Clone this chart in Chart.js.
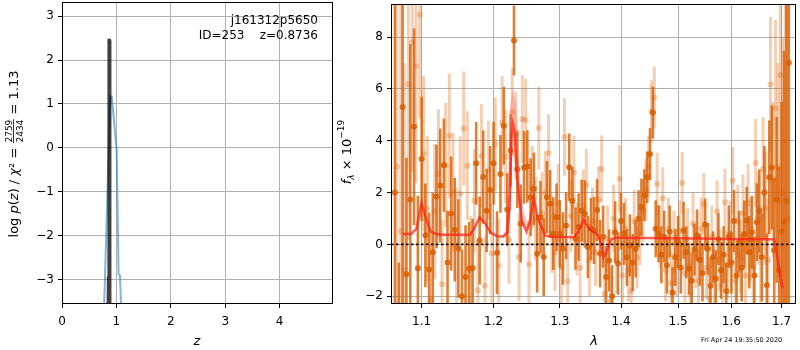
<!DOCTYPE html>
<html><head><meta charset="utf-8">
<script src="https://cdn.jsdelivr.net/npm/chart.js@4.4.1/dist/chart.umd.min.js"></script>
<style>
html,body{margin:0;padding:0;background:#fff;width:800px;height:350px;overflow:hidden}
#c1{position:absolute;left:0;top:0}
#c2{position:absolute;left:335px;top:0}
</style></head><body>
<canvas id="c1" width="335" height="350"></canvas>
<canvas id="c2" width="465" height="350"></canvas>
<script>
// ---------- left panel data: log p(z) ----------
const PZ_X_TICKS = [0, 1, 2, 3, 4];
const PZ_Y_TICKS = [-3, -2, -1, 0, 1, 2, 3];
const PZ_BLACK_Z = [0.845, 0.852, 0.862, 0.873, 0.881];
const PZ_BLACK_Y = [-3.7, -2.95, 2.45, 2.45, -3.7];
const PZ_BLUE_Z = [0.77, 0.79, 0.885, 0.915, 1.005, 1.04, 1.065, 1.09];
const PZ_BLUE_Y = [-3.7, -2.95, 1.17, 1.17, -0.05, -2.88, -2.9, -3.7];

// ---------- right panel data: spectrum ----------
const SP_X_TICKS = [1.1, 1.2, 1.3, 1.4, 1.5, 1.6, 1.7];
const SP_Y_TICKS = [-2, 0, 2, 4, 6, 8];
const DARK_L = [1.065,1.070,1.075,1.080,1.085,1.090,1.095,1.100,1.105,1.110,1.115,1.120,1.125,1.130,1.135,1.140,1.145,1.150,1.155,1.160,1.165,1.170,1.175,1.180,1.185,1.190,1.195,1.200,1.205,1.210,1.215,1.220,1.225,1.230,1.235,1.240,1.245,1.250,1.255,1.260,1.265,1.270,1.275,1.280,1.285,1.290,1.295,1.300,1.305,1.310,1.315,1.320,1.325,1.330,1.335,1.340,1.345,1.350,1.355,1.360,1.365,1.370,1.375,1.380,1.385,1.390,1.395,1.400,1.405,1.410,1.415,1.420,1.425,1.430,1.435,1.440,1.445,1.450,1.455,1.460,1.465,1.470,1.475,1.480,1.485,1.490,1.495,1.500,1.505,1.510,1.515,1.520,1.525,1.530,1.535,1.540,1.545,1.550,1.555,1.560,1.565,1.570,1.575,1.580,1.585,1.590,1.595,1.600,1.605,1.610,1.615,1.620,1.625,1.630,1.635,1.640,1.645,1.650,1.655,1.660,1.665,1.670,1.675,1.680,1.685,1.690,1.695,1.700,1.705,1.710,1.715];
const DARK_F = [2.0,-3.2,5.3,-1.15,1.73,4.54,-0.92,3.3,0.35,-0.97,-0.3,1.85,2.27,3.06,-0.7,1.19,0.57,-0.16,-2.0,-1.26,-0.93,-0.91,3.13,0.15,2.6,1.3,2.1,3.13,-0.32,2.72,4.58,1.35,3.62,7.87,2.9,0.8,2.97,3.01,1.82,2.14,-0.36,1.05,-0.49,1.82,1.57,0.41,1.05,0.41,-0.16,0.73,2.98,1.69,0.22,0.67,1.3,1.18,-0.1,0.6,0.54,1.33,-0.36,0.3,-1.26,-0.62,-2.0,0.47,-0.74,0.9,0.41,-0.5,-0.04,-0.7,-0.17,0.99,1.44,1.9,2.59,3.49,5.09,0.6,0.41,-0.4,0.3,-0.8,0.5,-1.87,-0.5,0.1,-0.9,0.54,-0.3,-0.94,-1.4,-0.2,0.35,-0.6,-1.1,0.77,-0.17,-1.6,-0.5,-1.32,0.2,-1.0,-0.4,-1.8,0.3,-0.7,0.9,-1.2,0.1,-0.9,0.4,0.92,-0.3,0.47,-1.2,0.86,1.3,-0.5,2.0,-1.58,2.59,2.97,-0.23,1.72,-1.0,0.5,0.88,1.69,7.01];
const DARK_E = [14,2.5,10,4.5,6,3.8,2.8,2.4,2.0,2.2,2.3,2.0,2.2,1.8,2.0,2.2,2.0,1.9,1.8,2.0,1.8,1.9,1.6,1.7,1.8,1.6,1.7,1.6,1.6,1.5,1.5,1.4,1.4,1.35,1.5,1.5,1.4,1.4,1.5,1.4,1.5,1.4,1.5,1.4,1.3,1.4,1.3,1.3,1.4,1.3,1.3,1.3,1.2,1.3,1.2,1.3,1.2,1.2,1.3,1.2,1.3,1.2,1.2,1.2,1.2,1.2,1.2,1.1,1.2,1.1,1.2,1.1,1.1,1.1,1.1,1.0,1.0,1.0,1.0,1.1,1.1,1.1,1.0,1.1,1.0,1.0,1.1,1.0,1.0,1.1,1.0,1.0,1.1,1.0,1.0,1.0,1.1,1.0,1.0,1.1,1.0,1.1,1.0,1.1,1.1,1.1,1.2,1.2,1.2,1.2,1.2,1.3,1.3,1.3,1.4,1.4,1.5,1.5,1.6,1.7,1.8,2.0,2.2,2.4,2.8,3.2,4.0,5.0,6.6,9,14];
const LIGHT_L = [1.0675,1.0725,1.0775,1.0825,1.0875,1.0925,1.0975,1.1025,1.1075,1.1125,1.1175,1.1225,1.1275,1.1325,1.1375,1.1425,1.1475,1.1525,1.1575,1.1625,1.1675,1.1725,1.1775,1.1825,1.1875,1.1925,1.1975,1.2025,1.2075,1.2125,1.2175,1.2225,1.2275,1.2325,1.2375,1.2425,1.2475,1.2525,1.2575,1.2625,1.2675,1.2725,1.2775,1.2825,1.2875,1.2925,1.2975,1.3025,1.3075,1.3125,1.3175,1.3225,1.3275,1.3325,1.3375,1.3425,1.3475,1.3525,1.3575,1.3625,1.3675,1.3725,1.3775,1.3825,1.3875,1.3925,1.3975,1.4025,1.4075,1.4125,1.4175,1.4225,1.4275,1.4325,1.4375,1.4425,1.4475,1.4525,1.4575,1.4625,1.4675,1.4725,1.4775,1.4825,1.4875,1.4925,1.4975,1.5025,1.5075,1.5125,1.5175,1.5225,1.5275,1.5325,1.5375,1.5425,1.5475,1.5525,1.5575,1.5625,1.5675,1.5725,1.5775,1.5825,1.5875,1.5925,1.5975,1.6025,1.6075,1.6125,1.6175,1.6225,1.6275,1.6325,1.6375,1.6425,1.6475,1.6525,1.6575,1.6625,1.6675,1.6725,1.6775,1.6825,1.6875,1.6925,1.6975,1.7025,1.7075,1.7125];
const LIGHT_F = [3.0,0.5,-1.0,6.18,7.8,6.88,8.87,3.5,1.38,-2.15,1.28,2.72,-1.54,3.06,4.19,2.0,-0.1,1.97,4.47,3.04,-1.0,1.69,-1.77,3.42,-1.6,2.87,-0.35,3.87,-0.81,4.7,3.38,0.18,5.1,4.2,-0.49,4.83,4.8,-0.77,2.2,1.0,4.49,1.2,2.0,3.53,0.4,-0.3,1.6,-0.87,4.15,-1.42,1.1,2.78,0.2,-0.9,1.5,2.29,-0.6,0.9,-0.3,1.72,2.91,-1.9,0.2,-2.2,1.0,-0.6,2.53,-1.2,0.6,-1.0,-1.8,0.9,-0.5,0.4,1.3,2.1,3.0,5.13,5.67,2.33,0.3,1.78,-1.0,0.6,-1.5,0.1,-0.8,0.5,2.37,-1.1,0.2,-1.9,0.8,-0.5,-1.4,0.6,1.56,-0.9,-2.1,0.3,-1.3,1.27,-0.6,-1.6,1.63,-0.8,0.4,2.46,-1.4,0.9,-0.5,1.2,-1.2,1.6,0.2,-0.9,3.14,1.0,-0.4,2.91,1.4,-0.6,6.18,2.5,5.26,3.0,6.54,2.0,4.0,1.0];
const LIGHT_E = [12,9,8,6,5,4.5,4,3,2.8,2.6,2.6,2.5,2.5,2.4,2.4,2.3,2.3,2.2,2.2,2.1,2.1,2.0,2.0,2.0,1.9,1.9,1.9,1.8,1.8,1.8,1.8,1.7,1.7,1.7,1.7,1.7,1.6,1.7,1.6,1.6,1.6,1.6,1.6,1.5,1.5,1.5,1.5,1.5,1.5,1.5,1.4,1.4,1.4,1.4,1.4,1.4,1.4,1.3,1.3,1.3,1.3,1.3,1.3,1.3,1.3,1.3,1.3,1.2,1.2,1.2,1.2,1.2,1.2,1.2,1.2,1.2,1.2,1.2,1.2,1.2,1.2,1.2,1.2,1.2,1.2,1.2,1.2,1.2,1.2,1.2,1.2,1.2,1.2,1.2,1.2,1.2,1.2,1.2,1.2,1.2,1.2,1.2,1.2,1.2,1.3,1.3,1.3,1.3,1.4,1.4,1.4,1.5,1.5,1.5,1.6,1.6,1.7,1.8,1.9,2.0,2.2,2.4,2.6,3.0,3.4,4.0,5.0,6.0,8,10,12];
const MODEL_L = [1.075,1.086,1.093,1.100,1.106,1.112,1.120,1.128,1.166,1.172,1.180,1.188,1.196,1.205,1.214,1.220,1.2235,1.2262,1.2285,1.231,1.2337,1.2371,1.242,1.2487,1.254,1.2597,1.266,1.2774,1.285,1.322,1.330,1.338,1.346,1.353,1.362,1.367,1.371,1.377,1.384,1.392,1.50,1.60,1.684,1.689,1.695,1.702];
const MODEL_F = [0.4,0.4,0.6,1.6,1.0,0.5,0.4,0.37,0.37,0.6,1.05,0.8,0.45,0.32,0.3,0.45,1.5,4.2,4.65,4.3,3.0,1.9,0.9,0.5,0.9,1.8,1.0,0.35,0.3,0.28,0.5,0.95,0.65,0.5,0.35,0.0,-0.5,-0.2,0.2,0.26,0.24,0.21,0.2,-0.1,-1.0,-1.7];
const MODEL2_L = [1.214,1.220,1.2235,1.2262,1.2285,1.231,1.2337,1.2371,1.242,1.2487,1.254];
const MODEL2_F = [0.3,0.5,2.0,5.2,5.6,5.3,3.6,2.3,1.3,0.7,0.9];
const SP_XMIN = 1.06, SP_XMAX = 1.73;

const FONT = '"DejaVu Sans"';
const fmt = v => (v < 0 ? '\u2212' : '') + Math.abs(v);
const pts = (xs, ys) => xs.map((x, i) => ({x: x, y: ys[i]}));

function axisCommon(min, max, ticks, size, isY) {
  return {
    type: 'linear', min: min, max: max,
    afterBuildTicks: s => { s.ticks = ticks.map(v => ({value: v})); },
    afterFit: s => {
      if (isY) s.width = size; else s.height = size;
      s.paddingTop = 0; s.paddingBottom = 0; s.paddingLeft = 0; s.paddingRight = 0;
    },
    grid: {color: '#b0b0b0', lineWidth: 1, tickColor: '#000', tickLength: 4},
    border: {display: false},
    ticks: {color: '#000', font: {family: 'DejaVu Sans', size: 12}, padding: isY ? 4 : 7,
            maxRotation: 0, autoSkip: false, callback: v => fmt(v)}
  };
}

const framePlugin = {
  id: 'frame',
  afterDraw(chart) {
    const a = chart.chartArea, ctx = chart.ctx;
    ctx.save(); ctx.strokeStyle = '#000'; ctx.lineWidth = 1;
    ctx.strokeRect(Math.round(a.left) + 0.5, Math.round(a.top) + 0.5,
                   Math.round(a.right - a.left) - 1, Math.round(a.bottom - a.top) - 1);
    ctx.restore();
  }
};

function richWidth(ctx, segs) {
  let w = 0;
  for (const s of segs) {
    ctx.font = s.font;
    if (s.frac) s.w = Math.max(ctx.measureText(s.num).width, ctx.measureText(s.den).width) + 2;
    else s.w = ctx.measureText(s.t).width;
    w += s.w;
  }
  return w;
}
function drawRich(ctx, segs, x, y, rotate) {
  ctx.save(); ctx.translate(x, y); if (rotate) ctx.rotate(-Math.PI / 2);
  const w = richWidth(ctx, segs); let cx = -w / 2;
  ctx.fillStyle = '#000'; ctx.textBaseline = 'alphabetic';
  for (const s of segs) {
    ctx.font = s.font;
    if (s.frac) {
      const mid = cx + s.w / 2; ctx.textAlign = 'center';
      ctx.fillText(s.num, mid, -5.2); ctx.fillText(s.den, mid, 5.0);
      ctx.fillRect(cx + 0.5, -4.3, s.w - 1, 0.8);
    } else { ctx.textAlign = 'left'; ctx.fillText(s.t, cx, s.dy || 0); }
    cx += s.w;
  }
  ctx.restore();
}

const N13 = '13px ' + FONT, I13 = 'italic 13px ' + FONT, S9 = '9px ' + FONT, IS9 = 'italic 9px ' + FONT;

const leftText = {
  id: 'leftText',
  afterDraw(chart) {
    const ctx = chart.ctx;
    ctx.save(); ctx.fillStyle = '#000';
    ctx.font = '12px ' + FONT; ctx.textAlign = 'right'; ctx.textBaseline = 'alphabetic';
    ctx.fillText('j161312p5650', 318, 24);
    ctx.fillText('ID=253    z=0.8736', 318, 39);
    ctx.font = I13; ctx.textAlign = 'center';
    ctx.fillText('z', 197, 345);
    ctx.restore();
    drawRich(ctx, [
      {t: 'log ', font: N13}, {t: 'p', font: I13}, {t: '(', font: N13}, {t: 'z', font: I13},
      {t: ') / ', font: N13}, {t: '\u03c7', font: I13}, {t: '\u00b2', font: N13}, {t: ' = ', font: N13},
      {frac: true, num: '2759', den: '2434', font: S9}, {t: ' = 1.13', font: N13}
    ], 17.5, 154, true);
  }
};

const errPlugin = {
  id: 'errbars',
  beforeDatasetDraw(chart, args) {
    const ds = chart.data.datasets[args.index];
    if (!ds.errs) return;
    const ctx = chart.ctx, a = chart.chartArea, xs = chart.scales.x, ys = chart.scales.y;
    ctx.save();
    ctx.beginPath(); ctx.rect(a.left, a.top, a.right - a.left, a.bottom - a.top); ctx.clip();
    ctx.strokeStyle = ds.errColor; ctx.lineWidth = ds.errWidth; ctx.lineCap = 'butt';
    ds.data.forEach((p, i) => {
      const px = xs.getPixelForValue(p.x);
      const y1 = ys.getPixelForValue(p.y - ds.errs[i]);
      const y2 = ys.getPixelForValue(p.y + ds.errs[i]);
      ctx.beginPath(); ctx.moveTo(px, y1); ctx.lineTo(px, y2); ctx.stroke();
    });
    ctx.restore();
  }
};

const rightText = {
  id: 'rightText',
  afterDraw(chart) {
    const ctx = chart.ctx;
    ctx.save(); ctx.fillStyle = '#000'; ctx.textBaseline = 'alphabetic';
    ctx.font = I13; ctx.textAlign = 'center';
    ctx.fillText('\u03bb', 594 - 335, 345);
    ctx.font = '6.5px ' + FONT; ctx.textAlign = 'left';
    ctx.fillText('Fri Apr 24 19:35:50 2020', 701 - 335, 342);
    ctx.restore();
    drawRich(ctx, [
      {t: 'f', font: I13}, {t: '\u03bb', font: IS9, dy: 3}, {t: ' \u00d7 10', font: N13},
      {t: '\u221219', font: S9, dy: -7}
    ], 351 - 335, 152, true);
  }
};

new Chart(document.getElementById('c1'), {
  type: 'scatter',
  data: {datasets: [
    {data: pts(PZ_BLACK_Z, PZ_BLACK_Y), showLine: true, borderColor: 'rgba(0,0,0,0.75)', borderWidth: 3,
     pointRadius: 0, tension: 0, clip: 0},
    {data: pts(PZ_BLUE_Z, PZ_BLUE_Y), showLine: true, borderColor: 'rgba(31,119,180,0.55)', borderWidth: 2,
     pointRadius: 0, tension: 0, clip: 0}
  ]},
  options: {
    responsive: false, animation: false, events: [],
    layout: {padding: {top: 2, right: 2, left: 0, bottom: 0}},
    plugins: {legend: {display: false}, tooltip: {enabled: false}},
    scales: {
      x: axisCommon(0, 4.98, PZ_X_TICKS, 46, false),
      y: axisCommon(-3.55, 3.32, PZ_Y_TICKS, 62, true)
    }
  },
  plugins: [framePlugin, leftText]
});

const spX = axisCommon(SP_XMIN, SP_XMAX, SP_X_TICKS, 46, false);
spX.type = 'logarithmic';
spX.ticks.callback = v => String(v);

new Chart(document.getElementById('c2'), {
  type: 'scatter',
  data: {datasets: [
    {data: pts([SP_XMIN, SP_XMAX], [0, 0]), showLine: true, borderColor: '#111', borderWidth: 1.8,
     borderDash: [2.5, 2.5], pointRadius: 0, clip: 0},
    {data: pts(MODEL_L, MODEL_F), showLine: true, borderColor: 'rgba(255,30,20,0.72)', borderWidth: 2.5,
     pointRadius: 0, tension: 0, clip: 0},
    {data: pts(MODEL2_L, MODEL2_F), showLine: true, borderColor: 'rgba(255,80,80,0.3)', borderWidth: 3.5,
     pointRadius: 0, tension: 0, clip: 0},
    {data: pts(DARK_L, DARK_F), errs: DARK_E, errColor: 'rgba(217,95,2,0.8)', errWidth: 2.6,
     pointRadius: 3, pointBorderWidth: 0, pointBackgroundColor: 'rgba(217,95,2,0.85)', clip: 0},
    {data: pts(LIGHT_L, LIGHT_F), errs: LIGHT_E, errColor: 'rgba(217,95,2,0.3)', errWidth: 3,
     pointRadius: 3, pointBorderWidth: 0, pointBackgroundColor: 'rgba(217,95,2,0.3)', clip: 0}
  ]},
  options: {
    responsive: false, animation: false, events: [],
    layout: {padding: {top: 2, right: 1, left: 0, bottom: 0}},
    plugins: {legend: {display: false}, tooltip: {enabled: false}},
    scales: {
      x: spX,
      y: axisCommon(-2.3, 9.28, SP_Y_TICKS, 56, true)
    }
  },
  plugins: [framePlugin, errPlugin, rightText]
});
</script>
</body></html>
